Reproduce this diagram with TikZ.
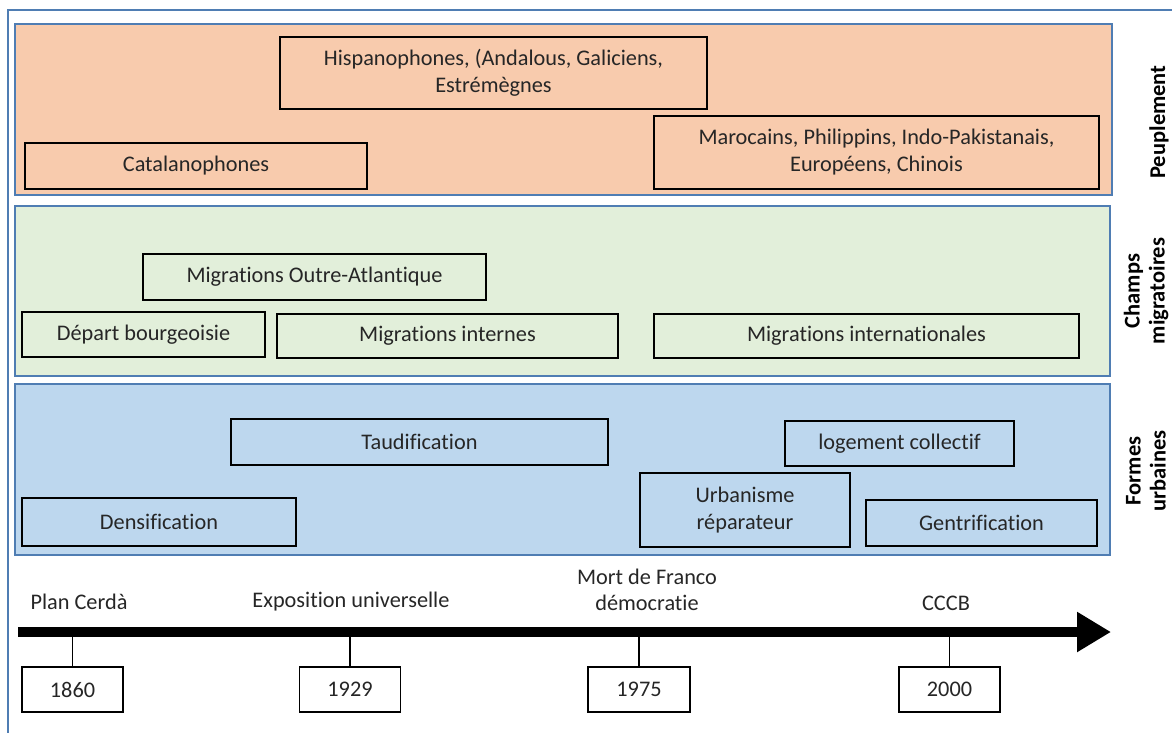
\documentclass[tikz,border=0pt]{standalone}
\usepackage{fontspec}
\setmainfont{Carlito}[Ligatures=NoCommon]
\usetikzlibrary{arrows.meta}
\definecolor{peach}{HTML}{F8CBAD}
\definecolor{lgreen}{HTML}{E2EFDA}
\definecolor{lblue}{HTML}{BDD7EE}
\definecolor{frameblue}{HTML}{4F7DB3}
\definecolor{txt}{HTML}{262626}
\tikzset{
  band/.style={draw=frameblue, line width=2pt},
  box/.style={draw=black, line width=2.2pt, text=txt, align=center, inner sep=0pt,
    font=\fontsize{22.3}{27}\selectfont},
  lbl/.style={text=txt, align=center, inner sep=0pt, font=\fontsize{22.3}{26}\selectfont},
  side/.style={text=black, align=center, inner sep=0pt, rotate=90,
    font=\fontsize{22.5}{25}\selectfont\bfseries},
  tick/.style={draw=black, line width=1.5pt},
  yearbox/.style={draw=black, line width=1.6pt, fill=white, text=txt, inner sep=0pt,
    minimum width=101pt, minimum height=45pt, font=\fontsize{22.3}{26}\selectfont}
}
\begin{document}
\begin{tikzpicture}[x=1pt,y=-1pt]
\useasboundingbox (0,0) rectangle (1172,733);
% outer frame
\draw[frameblue, line width=2pt] (8,733) -- (8,10) -- (1172,10);
% bands
\draw[band, fill=peach] (15,24) rectangle (1112,195);
\draw[band, fill=lgreen] (15,206) rectangle (1110,376);
\draw[band, fill=lblue] (15,384) rectangle (1110,555);
% Peuplement
\node[box, minimum width=427pt, minimum height=72pt] (hisp) at (493.5,73) {Hispanophones, (Andalous, Galiciens,\\Estrémègnes};
\node[box, minimum width=342pt, minimum height=46pt] (cat) at (196,166) {Catalanophones};
\node[box, minimum width=445pt, minimum height=73pt] (maro) at (876.5,152.5) {Marocains, Philippins, Indo-Pakistanais,\\Européens, Chinois};
% Champs migratoires
\node[box, minimum width=343pt, minimum height=46pt] (outre) at (314.5,277) {Migrations Outre-Atlantique};
\node[box, minimum width=243pt, minimum height=45pt] (depart) at (143.5,334.5) {Départ bourgeoisie};
\node[box, minimum width=341pt, minimum height=44pt] (internes) at (447.5,336) {Migrations internes};
\node[box, minimum width=425pt, minimum height=44pt] (intl) at (866.5,336) {Migrations internationales};
% Formes urbaines
\node[box, minimum width=377pt, minimum height=46pt] (taud) at (419.5,442) {Taudification};
\node[box, minimum width=229pt, minimum height=45pt] (loge) at (899.5,443.5) {logement collectif};
\node[box, minimum width=210pt, minimum height=74pt] (urba) at (745,510) {Urbanisme\\réparateur};
\node[box, minimum width=231pt, minimum height=46pt] (gent) at (981.5,523) {Gentrification};
\node[box, minimum width=274pt, minimum height=48pt] (dens) at (159,522) {Densification};
% side labels
\node[side] (s1) at (1159,122) {Peuplement};
\node[side] (s2) at (1146,291) {Champs\\migratoires};
\node[side] (s3) at (1146,471) {Formes\\urbaines};
% timeline
\coordinate (tstart) at (18,632);
\coordinate (tend) at (1111,632);
\draw[line width=10pt, -{Triangle[length=34pt,width=38pt]}] (tstart) -- (tend);
\coordinate (t1) at (72.5,632);
\coordinate (t2) at (350,632);
\coordinate (t3) at (639,632);
\coordinate (t4) at (949.5,632);
\node[yearbox] (y1) at (72.5,689.5) {1860};
\node[yearbox] (y2) at (350,689.5) {1929};
\node[yearbox, minimum width=102pt] (y3) at (639,689.5) {1975};
\node[yearbox] (y4) at (949.5,689.5) {2000};
\draw[tick] (t1) -- (y1.north);
\draw[tick] (t2) -- (y2.north);
\draw[tick] (t3) -- (y3.north);
\draw[tick] (t4) -- (y4.north);
\node[lbl] (e1) at (79,602) {Plan Cerdà};
\node[lbl] (e2) at (351,602) {Exposition universelle};
\node[lbl] (e3) at (647,590) {Mort de Franco\\démocratie};
\node[lbl] (e4) at (946,603) {CCCB};
\end{tikzpicture}
\end{document}
